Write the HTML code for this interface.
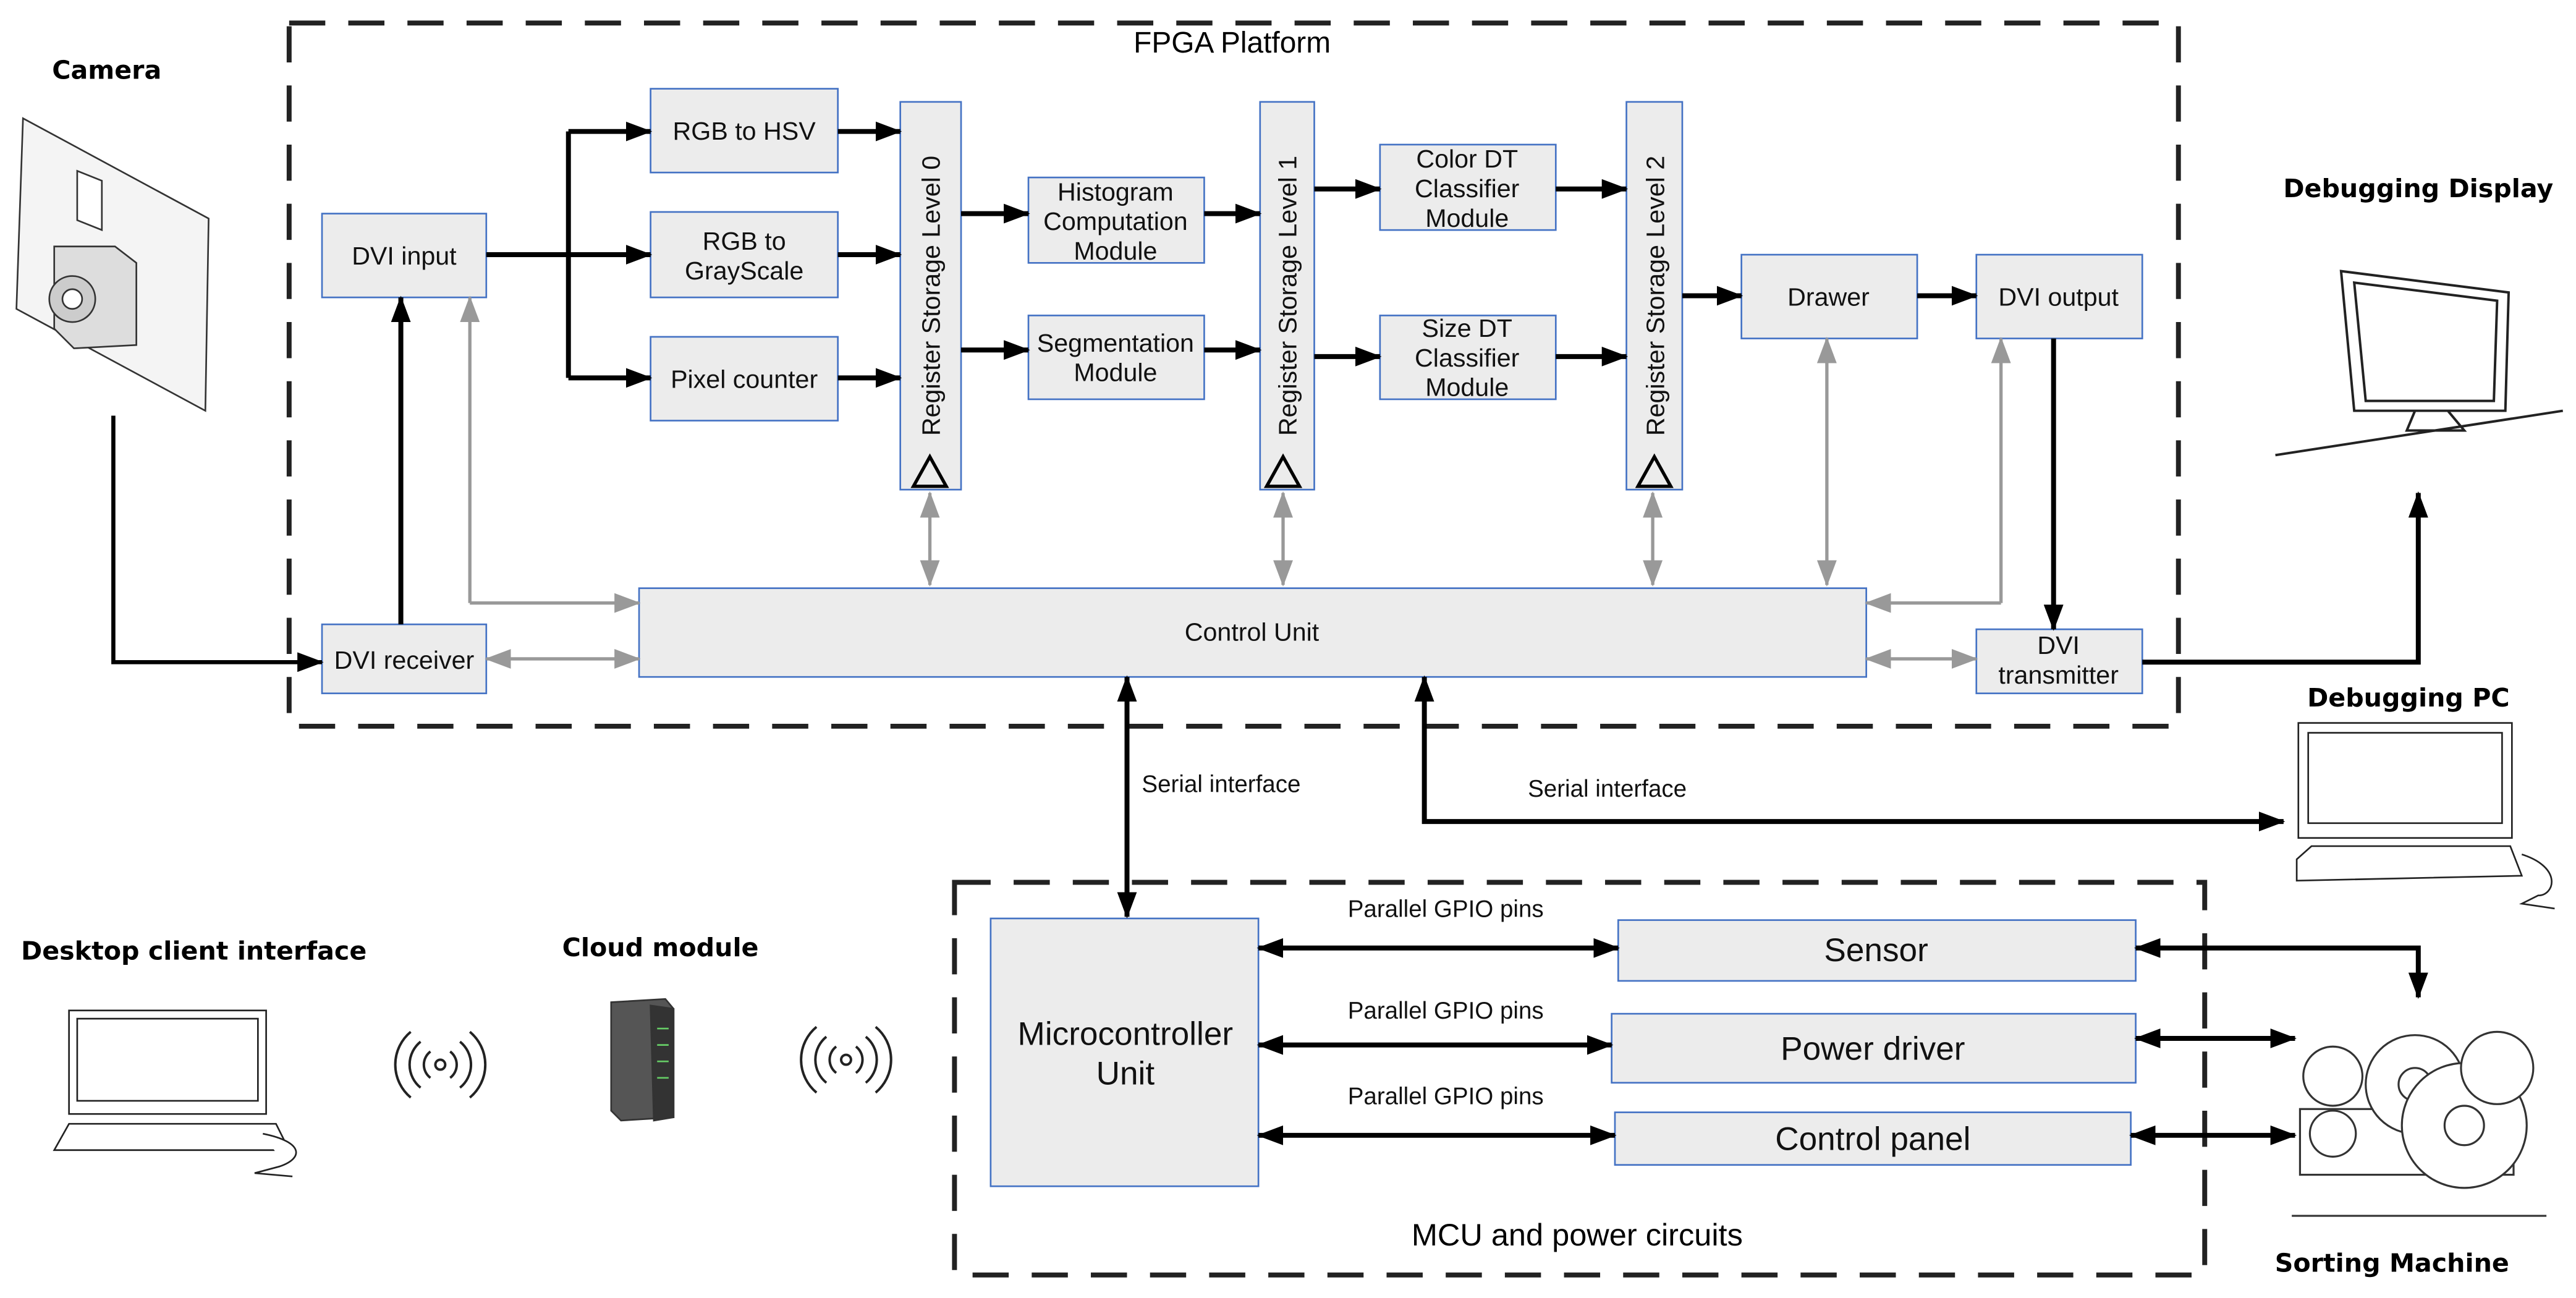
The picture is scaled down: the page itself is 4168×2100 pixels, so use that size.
<!DOCTYPE html>
<html><head><meta charset="utf-8"><style>html,body{margin:0;padding:0;background:#fff}svg{display:block}</style></head>
<body>
<svg xmlns="http://www.w3.org/2000/svg" width="4168" height="2100" viewBox="0 0 1568 790" font-family="Liberation Sans, sans-serif">
<defs>
<marker id="a" markerUnits="userSpaceOnUse" markerWidth="16" markerHeight="12" refX="15" refY="6" orient="auto-start-reverse"><path d="M0,0 L16,6 L0,12 z" fill="#000"/></marker>
<marker id="g" markerUnits="userSpaceOnUse" markerWidth="16" markerHeight="12" refX="15" refY="6" orient="auto-start-reverse"><path d="M0,0 L16,6 L0,12 z" fill="#999"/></marker>
</defs>
<rect width="1568" height="790" fill="#fff"/>
<rect x="176" y="14" width="1150" height="428" fill="none" stroke="#222" stroke-width="3" stroke-dasharray="22,14"/>
<rect x="581" y="537" width="761" height="239" fill="none" stroke="#222" stroke-width="3" stroke-dasharray="22,14"/>
<text x="750" y="32" font-size="18" text-anchor="middle">FPGA Platform</text>
<text x="960" y="758" font-size="19" text-anchor="middle">MCU and power circuits</text>

<g fill="#ececec" stroke="#4472c4" stroke-width="1">
<rect x="196" y="130" width="100" height="51"/>
<rect x="396" y="54" width="114" height="51"/>
<rect x="396" y="129" width="114" height="52"/>
<rect x="396" y="205" width="114" height="51"/>
<rect x="548" y="62" width="37" height="236"/>
<rect x="626" y="108" width="107" height="52"/>
<rect x="626" y="192" width="107" height="51"/>
<rect x="767" y="62" width="33" height="236"/>
<rect x="840" y="88" width="107" height="52"/>
<rect x="840" y="192" width="107" height="51"/>
<rect x="990" y="62" width="34" height="236"/>
<rect x="1060" y="155" width="107" height="51"/>
<rect x="1203" y="155" width="101" height="51"/>
<rect x="389" y="358" width="747" height="54"/>
<rect x="196" y="380" width="100" height="42"/>
<rect x="1203" y="383" width="101" height="39"/>
<rect x="603" y="559" width="163" height="163"/>
<rect x="985" y="560" width="315" height="37"/>
<rect x="981" y="617" width="319" height="42"/>
<rect x="983" y="677" width="314" height="32"/>
</g>
<g fill="none" stroke="#000" stroke-width="2">
<path d="M556,296 L566,278 L576,296 z"/>
<path d="M771,296 L781,278 L791,296 z"/>
<path d="M997,296 L1007,278 L1017,296 z"/>
</g>
<g font-size="15.5" text-anchor="middle" fill="#111">
<text x="246" y="161">DVI input</text>
<text x="453" y="85">RGB to HSV</text>
<text x="453" y="152">RGB to</text><text x="453" y="170">GrayScale</text>
<text x="453" y="236">Pixel counter</text>
<text x="679" y="122">Histogram</text><text x="679" y="140">Computation</text><text x="679" y="158">Module</text>
<text x="679" y="214">Segmentation</text><text x="679" y="232">Module</text>
<text x="893" y="102">Color DT</text><text x="893" y="120">Classifier</text><text x="893" y="138">Module</text>
<text x="893" y="205">Size DT</text><text x="893" y="223">Classifier</text><text x="893" y="241">Module</text>
<text x="1113" y="186">Drawer</text>
<text x="1253" y="186">DVI output</text>
<text x="762" y="390">Control Unit</text>
<text x="246" y="407">DVI receiver</text>
<text x="1253" y="398">DVI</text><text x="1253" y="416">transmitter</text>
<text x="572" y="180" transform="rotate(-90 572 180)">Register Storage Level 0</text>
<text x="789" y="180" transform="rotate(-90 789 180)">Register Storage Level 1</text>
<text x="1013" y="180" transform="rotate(-90 1013 180)">Register Storage Level 2</text>
</g>
<g font-size="20" text-anchor="middle" fill="#111">
<text x="685" y="636">Microcontroller</text><text x="685" y="660">Unit</text>
<text x="1142" y="585">Sensor</text>
<text x="1140" y="645">Power driver</text>
<text x="1140" y="700">Control panel</text>
</g>
<g font-size="14.5" fill="#111">
<text x="695" y="482">Serial interface</text>
<text x="930" y="485">Serial interface</text>
<text x="880" y="558" text-anchor="middle">Parallel GPIO pins</text>
<text x="880" y="620" text-anchor="middle">Parallel GPIO pins</text>
<text x="880" y="672" text-anchor="middle">Parallel GPIO pins</text>
</g>
<g font-size="15.5" font-weight="bold" text-anchor="middle" fill="#000" font-family="DejaVu Sans, sans-serif">
<text x="65" y="48">Camera</text>
<text x="1472" y="120">Debugging Display</text>
<text x="1466" y="430">Debugging PC</text>
<text x="1456" y="774">Sorting Machine</text>
<text x="118" y="584">Desktop client interface</text>
<text x="402" y="582">Cloud module</text>
</g>

<g fill="none" stroke="#000" stroke-width="3">
<path d="M296,155 H346"/>
<path d="M346,80 V230"/>
<path d="M346,80 H396" marker-end="url(#a)"/>
<path d="M346,155 H396" marker-end="url(#a)"/>
<path d="M346,230 H396" marker-end="url(#a)"/>
<path d="M510,80 H548" marker-end="url(#a)"/>
<path d="M510,155 H548" marker-end="url(#a)"/>
<path d="M510,230 H548" marker-end="url(#a)"/>
<path d="M585,130 H626" marker-end="url(#a)"/>
<path d="M585,213 H626" marker-end="url(#a)"/>
<path d="M733,130 H767" marker-end="url(#a)"/>
<path d="M733,213 H767" marker-end="url(#a)"/>
<path d="M800,115 H840" marker-end="url(#a)"/>
<path d="M800,217 H840" marker-end="url(#a)"/>
<path d="M947,115 H990" marker-end="url(#a)"/>
<path d="M947,217 H990" marker-end="url(#a)"/>
<path d="M1024,180 H1060" marker-end="url(#a)"/>
<path d="M1167,180 H1203" marker-end="url(#a)"/>
<path d="M1250,206 V383" marker-end="url(#a)"/>
<path d="M1304,403 H1472 V300" marker-end="url(#a)"/>
<path d="M244,380 V181" marker-end="url(#a)"/>
<path d="M69,253 V403 H196" marker-end="url(#a)" stroke-width="2.5"/>
<path d="M686,412 V558" marker-start="url(#a)" marker-end="url(#a)"/>
<path d="M867,412 V500 H1390" marker-start="url(#a)" marker-end="url(#a)"/>
<path d="M766,577 H985" marker-start="url(#a)" marker-end="url(#a)"/>
<path d="M766,636 H981" marker-start="url(#a)" marker-end="url(#a)"/>
<path d="M766,691 H983" marker-start="url(#a)" marker-end="url(#a)"/>
<path d="M1300,577 H1472 V607" marker-start="url(#a)" marker-end="url(#a)"/>
<path d="M1300,632 H1397" marker-start="url(#a)" marker-end="url(#a)"/>
<path d="M1297,691 H1397" marker-start="url(#a)" marker-end="url(#a)"/>
</g>
<g fill="none" stroke="#999" stroke-width="2">
<path d="M286,367 V181" marker-end="url(#g)"/>
<path d="M286,367 H389" marker-end="url(#g)"/>
<path d="M296,401 H389" marker-start="url(#g)" marker-end="url(#g)"/>
<path d="M566,300 V356" marker-start="url(#g)" marker-end="url(#g)"/>
<path d="M781,300 V356" marker-start="url(#g)" marker-end="url(#g)"/>
<path d="M1006,300 V356" marker-start="url(#g)" marker-end="url(#g)"/>
<path d="M1112,206 V356" marker-start="url(#g)" marker-end="url(#g)"/>
<path d="M1218,367 V206" marker-end="url(#g)"/>
<path d="M1218,367 H1136" marker-end="url(#g)"/>
<path d="M1136,401 H1203" marker-start="url(#g)" marker-end="url(#g)"/>
</g>

<!-- camera icon -->
<g fill="#f4f4f4" stroke="#333" stroke-width="1">
<path d="M14,72 L127,133 L125,250 L10,188 z"/>
<path d="M47,104 L62,110 L62,140 L47,134 z" fill="#fff"/>
<path d="M33,150 L70,150 L83,160 L83,210 L45,212 L33,200 z" fill="#ddd"/>
<circle cx="44" cy="182" r="14" fill="#ccc"/><circle cx="44" cy="182" r="6" fill="#fff"/>
</g>
<g fill="none" stroke="#222" stroke-width="1.5">
<path d="M1425,165 L1527,178 L1525,250 L1433,250 z" fill="#fff"/>
<path d="M1433,172 L1520,183 L1518,244 L1440,244 z"/>
<path d="M1470,250 L1465,262 L1500,262 L1490,250"/>
<path d="M1385,277 L1560,250"/>
</g>
<g fill="#fff" stroke="#222" stroke-width="1">
<rect x="1399" y="440" width="130" height="70"/>
<rect x="1405" y="446" width="118" height="55"/>
<path d="M1398,523 L1407,515 L1528,515 L1535,533 L1398,536 z"/>
<path d="M1535,520 C1560,528 1555,545 1545,545 L1535,550 L1555,553"/>
</g>
<g fill="#fff" stroke="#222" stroke-width="1">
<rect x="42" y="615" width="120" height="63"/>
<rect x="47" y="620" width="110" height="50"/>
<path d="M33,700 L42,684 L168,684 L176,700 z"/>
<path d="M160,690 C185,695 185,705 170,710 L155,714 L178,716"/>
</g>
<g stroke="#333" stroke-width="1">
<path d="M372,610 L405,608 L410,614 L410,680 L378,682 L372,676 z" fill="#555"/>
<path d="M396,612 L410,614 L410,680 L398,682 z" fill="#333"/>
<g stroke="#6c6"><path d="M400,626h7M400,636h7M400,646h7M400,656h7"/></g>
</g>
<g fill="none" stroke="#222" stroke-width="1.5">
<circle cx="268" cy="648" r="3"/>
<path d="M262,640a10,10 0 0 0 0,16M274,640a10,10 0 0 1 0,16M256,634a18,18 0 0 0 0,28M280,634a18,18 0 0 1 0,28M250,628a26,26 0 0 0 0,40M286,628a26,26 0 0 1 0,40"/>
<circle cx="515" cy="645" r="3"/>
<path d="M509,637a10,10 0 0 0 0,16M521,637a10,10 0 0 1 0,16M503,631a18,18 0 0 0 0,28M527,631a18,18 0 0 1 0,28M497,625a26,26 0 0 0 0,40M533,625a26,26 0 0 1 0,40"/>
</g>
<g fill="#fff" stroke="#333" stroke-width="1.2">
<rect x="1400" y="675" width="130" height="40"/>
<circle cx="1470" cy="660" r="30"/><circle cx="1470" cy="660" r="10"/>
<circle cx="1500" cy="685" r="38"/><circle cx="1500" cy="685" r="12"/>
<circle cx="1420" cy="655" r="18"/>
<circle cx="1420" cy="690" r="14"/>
<circle cx="1520" cy="650" r="22"/>
<path d="M1395,740 H1550"/>
</g>
</svg>
</body></html>
